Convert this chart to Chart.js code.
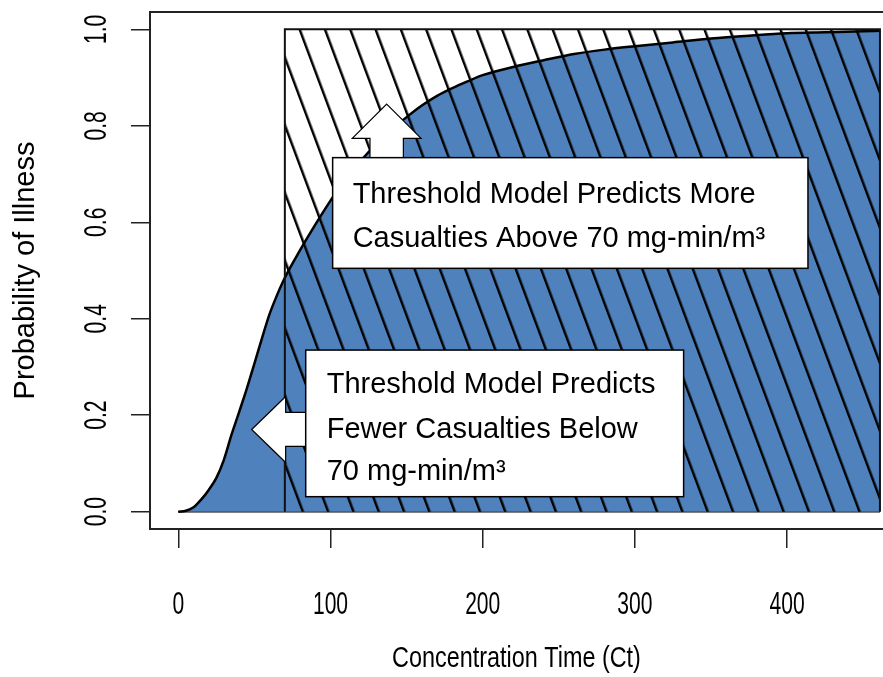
<!DOCTYPE html>
<html>
<head>
<meta charset="utf-8">
<script src="https://cdn.jsdelivr.net/npm/chart.js@4"></script>
<style>
html, body { margin: 0; padding: 0; background: #fff; }
canvas { display: block; }
</style>
</head>
<body>
<canvas id="myChart" width="883" height="677"></canvas>
<script>
// dose-response curve
const ctValues = [0, 5, 10, 15, 20, 25, 30, 35, 40, 45, 50, 55, 60, 65, 70, 80, 90, 100, 110, 120,
    130, 140, 150, 160, 170, 180, 190, 200, 220, 240, 260, 280, 300, 325, 350, 375, 400, 425, 450, 461];
const illness = [0, 0.002, 0.009, 0.025, 0.045, 0.07, 0.108, 0.16, 0.207, 0.255, 0.307, 0.36, 0.41, 0.45, 0.485, 0.542, 0.595, 0.645, 0.69, 0.728,
    0.762, 0.792, 0.818, 0.842, 0.862, 0.878, 0.892, 0.905, 0.922, 0.936, 0.949, 0.958, 0.965, 0.973, 0.981, 0.987, 0.992, 0.994, 0.996, 0.997];

// threshold model (step at 70)
const thresholdCt = [70, 70, 461, 461];
const thresholdP = [0, 1, 1, 0];
const baseCt = [0, 461];
const baseP = [0, 0];

const xTicks = [0, 100, 200, 300, 400];
const yTicks = [0, 0.2, 0.4, 0.6, 0.8, 1.0];

const noteAbove = ["Threshold Model Predicts More", "Casualties Above 70 mg-min/m³"];
const noteBelow = ["Threshold Model Predicts", "Fewer Casualties Below", "70 mg-min/m³"];

// annotation anchors in data units: [ct left, p top, ct right, p bottom]
const aboveBox = [101.4, 0.734, 413.7, 0.5045];
const belowBox = [83.7, 0.335, 332, 0.031];
const upTip = [136.9, 0.845];
const leftTip = [48.2, 0.1704];

const axisFont = '"Liberation Sans", Arial, sans-serif';
const noteFont = '"Liberation Sans", Arial, sans-serif';
const blue = '#4F81BD';

// R output used a narrow face for the axis text, so squeeze it
class NarrowScale extends Chart.LinearScale {
    drawLabels(chartArea) {
        if (!this.options.ticks.display) return;
        const ctx = this.ctx;
        const k = this.options.labelSqueeze ?? 1;
        for (const item of this.getLabelItems(chartArea)) {
            const o = item.options;
            ctx.save();
            ctx.font = item.font.string;
            ctx.translate(o.translation[0], o.translation[1]);
            ctx.rotate(o.rotation);
            ctx.scale(k, 1);
            ctx.fillStyle = o.color;
            ctx.textAlign = o.textAlign;
            ctx.textBaseline = o.textBaseline;
            ctx.fillText(item.label, 0, item.textOffset);
            ctx.restore();
        }
    }
    drawTitle() {
        const k = this.options.titleSqueeze ?? 1;
        const ctx = this.ctx;
        const mid = (this.left + this.right) / 2;
        ctx.save();
        ctx.translate(mid, 0);
        ctx.scale(k, 1);
        ctx.translate(-mid, 0);
        super.drawTitle();
        ctx.restore();
    }
}
NarrowScale.id = 'narrowLinear';
NarrowScale.defaults = Chart.LinearScale.defaults;
Chart.register(NarrowScale);

// hatch pattern: vertical stripe tile, rotated later
const tile = document.createElement('canvas');
tile.width = 24;
tile.height = 24;
const tctx = tile.getContext('2d');
tctx.fillStyle = '#000';
tctx.fillRect(0, 0, 2.5, 24);
const hatch = tctx.createPattern(tile, 'repeat');

const pts = (xs, ys) => xs.map((v, i) => ({ x: v, y: ys[i] }));

const hatchPhase = {
    id: 'hatchPhase',
    beforeDatasetsDraw(chart) {
        const { x, y } = chart.scales;
        const px = x.getPixelForValue(thresholdCt[0]) + 13.5;
        const py = y.getPixelForValue(thresholdP[1]);
        hatch.setTransform(new DOMMatrix().translateSelf(px, py).rotateSelf(-20.5).scaleSelf(23.7 / 24, 1));
    }
};

const frame = {
    id: 'frame',
    afterDraw(chart) {
        const { ctx, chartArea } = chart;
        ctx.save();
        ctx.strokeStyle = '#222';
        ctx.lineWidth = 2;
        ctx.beginPath();
        ctx.moveTo(chartArea.left, chartArea.top);
        ctx.lineTo(chartArea.right, chartArea.top);
        ctx.stroke();
        ctx.restore();
    }
};

function drawBox(ctx, l, t, r, b) {
    ctx.fillStyle = '#fff';
    ctx.fillRect(l, t, r - l, b - t);
    ctx.strokeStyle = '#000';
    ctx.lineWidth = 1.5;
    ctx.strokeRect(l, t, r - l, b - t);
}

function drawShape(ctx, p) {
    ctx.beginPath();
    ctx.moveTo(p[0][0], p[0][1]);
    for (let i = 1; i < p.length; i++) ctx.lineTo(p[i][0], p[i][1]);
    ctx.closePath();
    ctx.fillStyle = '#fff';
    ctx.fill();
    ctx.strokeStyle = '#000';
    ctx.lineWidth = 1.2;
    ctx.stroke();
}

const notes = {
    id: 'notes',
    afterDraw(chart) {
        const { ctx } = chart;
        const { x, y } = chart.scales;
        ctx.save();

        // upper note + up arrow
        let l = x.getPixelForValue(aboveBox[0]), t = y.getPixelForValue(aboveBox[1]);
        let r = x.getPixelForValue(aboveBox[2]), b = y.getPixelForValue(aboveBox[3]);
        const cx = x.getPixelForValue(upTip[0]), ty = y.getPixelForValue(upTip[1]);
        drawShape(ctx, [[cx, ty], [cx + 34.4, ty + 34.3], [cx + 16.7, ty + 34.3], [cx + 16.7, t],
            [cx - 16.7, t], [cx - 16.7, ty + 34.3], [cx - 34.4, ty + 34.3]]);
        drawBox(ctx, l, t, r, b);
        ctx.fillStyle = '#000';
        ctx.font = '29px ' + noteFont;
        ctx.textBaseline = 'alphabetic';
        ctx.textAlign = 'left';
        ctx.fillText(noteAbove[0], l + 20, t + 45.3);
        ctx.fillText(noteAbove[1], l + 20, t + 89);

        // lower note + left arrow
        l = x.getPixelForValue(belowBox[0]); t = y.getPixelForValue(belowBox[1]);
        r = x.getPixelForValue(belowBox[2]); b = y.getPixelForValue(belowBox[3]);
        const tx = x.getPixelForValue(leftTip[0]), cy = y.getPixelForValue(leftTip[1]);
        drawShape(ctx, [[tx, cy], [tx + 34, cy - 33], [tx + 34, cy - 17], [l, cy - 17],
            [l, cy + 17], [tx + 34, cy + 17], [tx + 34, cy + 33]]);
        drawBox(ctx, l, t, r, b);
        ctx.fillStyle = '#000';
        ctx.fillText(noteBelow[0], l + 21, t + 43.3);
        ctx.fillText(noteBelow[1], l + 21, t + 88.3);
        ctx.fillText(noteBelow[2], l + 21, t + 130);
        ctx.restore();
    }
};

const gridOpts = { drawOnChartArea: false, drawTicks: true, tickLength: 19, color: '#222', lineWidth: 1.5 };
const borderOpts = { display: true, color: '#222', width: 2 };

new Chart(document.getElementById('myChart'), {
    type: 'scatter',
    data: {
        datasets: [{
            label: 'Threshold',
            data: pts(thresholdCt, thresholdP),
            showLine: true,
            fill: 'origin',
            backgroundColor: hatch,
            borderColor: '#111',
            borderWidth: 2,
            pointRadius: 0,
            tension: 0
        }, {
            label: 'Probit',
            data: pts(ctValues, illness),
            showLine: true,
            fill: 'origin',
            backgroundColor: blue,
            borderColor: '#000',
            borderWidth: 2.5,
            pointRadius: 0,
            cubicInterpolationMode: 'monotone'
        }, {
            label: 'Base',
            data: pts(baseCt, baseP),
            showLine: true,
            borderColor: '#000',
            borderWidth: 1.5,
            pointRadius: 0
        }]
    },
    options: {
        responsive: false,
        animation: false,
        layout: { padding: { top: 12, right: 0, left: 0, bottom: 0 } },
        plugins: { legend: { display: false }, tooltip: { enabled: false } },
        scales: {
            x: {
                type: 'narrowLinear',
                min: -18.6,
                max: 463,
                labelSqueeze: 0.68,
                titleSqueeze: 0.78,
                afterBuildTicks: s => { s.ticks = xTicks.map(v => ({ value: v })); },
                afterFit: s => { s.height = 148; s.paddingLeft = 0; s.paddingRight = 0; },
                grid: gridOpts,
                border: borderOpts,
                ticks: { color: '#000', font: { family: axisFont, size: 31 }, padding: 39, maxRotation: 0, autoSkip: false },
                title: { display: true, text: 'Concentration Time (Ct)', color: '#000', font: { family: axisFont, size: 30 }, padding: { top: 0, bottom: 0 } }
            },
            y: {
                type: 'narrowLinear',
                min: -0.036,
                max: 1.036,
                labelSqueeze: 0.68,
                titleSqueeze: 1,
                afterBuildTicks: s => { s.ticks = yTicks.map(v => ({ value: v })); },
                afterFit: s => { s.width = 150; s.paddingTop = 0; s.paddingBottom = 0; },
                grid: gridOpts,
                border: borderOpts,
                ticks: {
                    color: '#000', font: { family: axisFont, size: 31 }, padding: 12,
                    minRotation: 90, maxRotation: 90, crossAlign: 'center', autoSkip: false,
                    callback: v => v.toFixed(1)
                },
                title: { display: true, text: 'Probability of Illness', color: '#000', font: { family: axisFont, size: 29 }, padding: { top: 9, bottom: 0 } }
            }
        }
    },
    plugins: [hatchPhase, frame, notes]
});
</script>
</body>
</html>
